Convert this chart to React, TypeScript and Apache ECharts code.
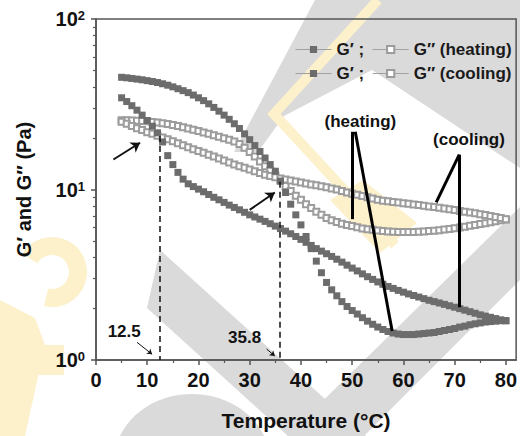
import React, { useEffect, useRef } from "react";
import * as echarts from "echarts";

// ---------- data ----------
const temperature = [
  5, 6, 7, 8, 9, 10, 11, 12, 13, 14,
  15, 16, 17, 18, 19, 20, 21, 22, 23, 24,
  25, 26, 27, 28, 29, 30, 31, 32, 33, 34,
  35, 36, 37, 38, 39, 40, 41, 42, 43, 44,
  45, 46, 47, 48, 49, 50, 51, 52, 53, 54,
  55, 56, 57, 58, 59, 60, 61, 62, 63, 64,
  65, 66, 67, 68, 69, 70, 71, 72, 73, 74,
  75, 76, 77, 78, 79, 80,
];

const gPrimeHeating = [
  45.5, 45.2, 44.8, 44.4, 44.0, 43.5, 43.0, 42.4, 41.7, 40.9,
  40.0, 39.0, 38.0, 37.0, 35.8, 34.5, 33.2, 31.8, 30.3, 28.8,
  27.3, 25.8, 24.3, 22.8, 21.2, 19.6, 18.1, 16.7, 15.3, 14.0,
  12.8, 11.2, 9.6, 8.2, 7.1, 6.2, 5.3, 4.5, 3.8, 3.25,
  2.85, 2.58, 2.38, 2.2, 2.06, 1.95, 1.86, 1.77, 1.69, 1.62,
  1.56, 1.51, 1.47, 1.44, 1.42, 1.41, 1.41, 1.41, 1.42, 1.43,
  1.44, 1.45, 1.47, 1.49, 1.51, 1.53, 1.56, 1.58, 1.61, 1.63,
  1.65, 1.67, 1.68, 1.69, 1.7, 1.7,
];

const gDoublePrimeHeating = [
  25.5, 25.5, 25.4, 25.3, 25.2, 25.1, 24.9, 24.7, 24.5, 24.2,
  23.9, 23.6, 23.2, 22.8, 22.4, 22.0, 21.6, 21.2, 20.8, 20.4,
  20.0, 19.6, 19.1, 18.5, 17.6, 16.6, 15.6, 14.6, 13.7, 12.9,
  12.1, 11.3, 10.5, 9.8, 9.2, 8.7, 8.2, 7.8, 7.4, 7.1,
  6.8, 6.6, 6.45, 6.3, 6.2, 6.1, 6.0, 5.9, 5.85, 5.8,
  5.75, 5.7, 5.68, 5.66, 5.64, 5.63, 5.63, 5.64, 5.65, 5.67,
  5.7, 5.73, 5.77, 5.82, 5.87, 5.93, 5.99, 6.05, 6.12, 6.19,
  6.27, 6.35, 6.43, 6.52, 6.6, 6.68,
];

const gPrimeCooling = [
  34.5, 32.8, 31.0, 29.2, 27.3, 25.4, 23.5, 21.5, 19.0, 15.8,
  14.0, 12.6, 11.5, 10.8, 10.4, 10.05, 9.7, 9.35, 9.0, 8.7,
  8.4, 8.1, 7.85, 7.6, 7.35, 7.1, 6.9, 6.7, 6.5, 6.3,
  6.1, 5.9, 5.7, 5.5, 5.3, 5.1, 4.9, 4.7, 4.5, 4.35,
  4.2, 4.05, 3.9, 3.75, 3.6, 3.46, 3.33, 3.2, 3.08, 2.97,
  2.87, 2.78, 2.7, 2.63, 2.56, 2.5, 2.44, 2.39, 2.34, 2.29,
  2.24, 2.2, 2.16, 2.12, 2.08, 2.04, 2.0, 1.96, 1.92, 1.88,
  1.84, 1.81, 1.78, 1.75, 1.72, 1.7,
];

const gDoublePrimeCooling = [
  25.0, 24.3, 23.6, 22.9, 22.3, 21.7, 21.2, 20.7, 20.2, 19.7,
  19.2, 18.7, 18.2, 17.7, 17.2, 16.8, 16.4, 16.0, 15.6, 15.2,
  14.8, 14.4, 14.0, 13.7, 13.4, 13.1, 12.8, 12.5, 12.2, 12.0,
  11.8, 11.6, 11.45, 11.3, 11.15, 11.0, 10.85, 10.7, 10.6, 10.45,
  10.3, 10.15, 10.0, 9.8, 9.6, 9.45, 9.3, 9.15, 9.0, 8.85,
  8.7, 8.6, 8.52, 8.45, 8.38, 8.31, 8.24, 8.17, 8.1, 8.03,
  7.96, 7.89, 7.81, 7.73, 7.65, 7.57, 7.49, 7.41, 7.33, 7.25,
  7.17, 7.08, 6.99, 6.9, 6.8, 6.7,
];

const xMajorTicks = [0, 10, 20, 30, 40, 50, 60, 70, 80];
const xMinorTicks = [5, 15, 25, 35, 45, 55, 65, 75];
const yMajorTicks = [1, 10, 100];
const yMinorTicks = [2, 3, 4, 5, 6, 7, 8, 9, 20, 30, 40, 50, 60, 70, 80, 90];

// crossover temperatures (°C) and modulus there (Pa)
const crossoverTemps = [12.5, 35.8];
const crossoverModuli = [20.6, 11.1];
const crossoverLabels = ["12.5", "35.8"];

// ---------- styling ----------
const FONT = '"Liberation Sans", Arial, Helvetica, sans-serif';
const AXIS = "#555555";
const INK = "#111111";
const FILLED = "#6c6c6c";
const OPEN = "#9c9c9c";
const WM_GREY = "#dadada";
const WM_YELLOW = "#fdf1cc";

const pairs = (ys: number[]) => temperature.map((t, i) => [t, ys[i]]);

const nameMap: Record<string, string> = {
  "G′ heating": "G′ ;",
  "G″ heating": "G″ (heating)",
  "G′ cooling": "G′ ;",
  "G″ cooling": "G″ (cooling)",
};

const filledSeries = (name: string, ys: number[]) => ({
  name,
  type: "line",
  data: pairs(ys),
  symbol: "rect",
  symbolSize: 7,
  itemStyle: { color: FILLED },
  lineStyle: { color: "#9a9a9a", width: 1, opacity: 0 },
  emphasis: { disabled: true },
  z: 4,
});

const openSeries = (name: string, ys: number[]) => ({
  name,
  type: "line",
  data: pairs(ys),
  symbol: "emptyRect",
  symbolSize: 6,
  itemStyle: { color: OPEN, borderWidth: 1 },
  lineStyle: { color: "#9a9a9a", width: 1, opacity: 0 },
  emphasis: { disabled: true },
  z: 3,
});

const seg = (a: number[], b: number[], style: any, endSymbol = "none", size = 8) => [
  { coord: a, symbol: "none", lineStyle: style },
  { coord: b, symbol: endSymbol, symbolSize: size },
];

const pointer = { color: "#000", width: 3, type: "solid" };
const arrowStyle = { color: "#111", width: 2, type: "solid" };
const thinArrow = { color: "#111", width: 1, type: "solid" };
const dashed = { color: INK, width: 1.5, type: [6, 4] };

export default function App() {
  const ref = useRef<HTMLDivElement>(null);

  useEffect(() => {
    const chart = echarts.init(ref.current!, null, { renderer: "svg" });

    const legendBase = {
      left: 290,
      itemWidth: 36,
      itemHeight: 9,
      itemGap: 8,
      textStyle: { fontSize: 17, fontWeight: "bold", color: "#1a1a1a", fontFamily: FONT },
      lineStyle: { color: "#a0a0a0", width: 1, opacity: 1 },
      formatter: (n: string) => nameMap[n] || n,
      selectedMode: false,
    };

    const option: any = {
      animation: false,
      backgroundColor: "#ffffff",
      textStyle: { fontFamily: FONT },
      grid: {
        left: 96,
        top: 19,
        right: 3,
        bottom: 75,
        show: true,
        borderColor: AXIS,
        borderWidth: 1.5,
        backgroundColor: "transparent",
      },
      legend: [
        { ...legendBase, top: 36, data: ["G′ heating", "G″ heating"] },
        { ...legendBase, top: 60, data: ["G′ cooling", "G″ cooling"] },
      ],
      xAxis: [
        {
          type: "value",
          min: 0,
          max: 82,
          interval: 10,
          axisLine: { show: true, lineStyle: { color: AXIS, width: 1.5 } },
          axisTick: { show: true, customValues: xMajorTicks, length: 5, lineStyle: { color: AXIS, width: 1.5 } },
          axisLabel: {
            customValues: xMajorTicks,
            fontSize: 20,
            fontWeight: "bold",
            color: INK,
            margin: 10,
            fontFamily: FONT,
          },
          splitLine: { show: false },
          name: "Temperature (°C)",
          nameLocation: "middle",
          nameGap: 50,
          nameTextStyle: { fontSize: 21, fontWeight: "bold", color: INK, fontFamily: FONT },
        },
        {
          type: "value",
          min: 0,
          max: 82,
          position: "bottom",
          axisLine: { show: false },
          axisTick: { show: true, customValues: xMinorTicks, length: 3, lineStyle: { color: AXIS, width: 1.2 } },
          axisLabel: { show: false },
          splitLine: { show: false },
        },
      ],
      yAxis: [
        {
          type: "log",
          logBase: 10,
          min: 1,
          max: 100,
          axisLine: { show: true, lineStyle: { color: AXIS, width: 1.5 } },
          axisTick: { show: true, customValues: yMajorTicks, length: 5, lineStyle: { color: AXIS, width: 1.5 } },
          axisLabel: {
            customValues: yMajorTicks,
            margin: 11,
            formatter: (v: number) => `{b|10}{s|${Math.round(Math.log10(v))}}`,
            rich: {
              b: { fontSize: 20, fontWeight: "bold", color: INK, fontFamily: FONT },
              s: { fontSize: 13, fontWeight: "bold", color: INK, fontFamily: FONT, verticalAlign: "top" },
            },
          },
          splitLine: { show: false },
          minorTick: { show: false },
          name: "G′ and G″ (Pa)",
          nameLocation: "middle",
          nameGap: 62,
          nameTextStyle: { fontSize: 20, fontWeight: "bold", color: INK, fontFamily: FONT },
        },
        {
          type: "log",
          logBase: 10,
          min: 1,
          max: 100,
          position: "left",
          axisLine: { show: false },
          axisTick: { show: true, customValues: yMinorTicks, length: 3, lineStyle: { color: AXIS, width: 1.2 } },
          axisLabel: { show: false },
          splitLine: { show: false },
        },
      ],
      series: [
        openSeries("G″ heating", gDoublePrimeHeating),
        openSeries("G″ cooling", gDoublePrimeCooling),
        filledSeries("G′ cooling", gPrimeCooling),
        {
          ...filledSeries("G′ heating", gPrimeHeating),
          markLine: {
            silent: true,
            animation: false,
            symbol: ["none", "none"],
            label: { show: false },
            emphasis: { disabled: true },
            data: [
              seg([crossoverTemps[0], crossoverModuli[0]], [crossoverTemps[0], 1], dashed),
              seg([crossoverTemps[1], crossoverModuli[1]], [crossoverTemps[1], 1], dashed),
              seg([50.1, 21.8], [50.1, 6.7], pointer),
              seg([50.6, 21.8], [57.8, 1.48], pointer),
              seg([70.9, 16.0], [66.4, 8.4], pointer),
              seg([70.9, 16.0], [70.9, 2.04], pointer),
              seg([3.4, 15.0], [8.6, 18.8], arrowStyle, "arrow", 9),
              seg([30.0, 7.6], [34.9, 9.6], arrowStyle, "arrow", 9),
              seg([8.0, 1.27], [10.95, 1.08], thinArrow, "arrow", 5),
              seg([33.3, 1.16], [34.9, 1.055], thinArrow, "arrow", 5),
            ],
          },
        },
      ],
    };

    chart.setOption(option);

    const px = (t: number, v: number) => chart.convertToPixel({ seriesIndex: 3 }, [t, v]) as number[];
    const label = (text: string, p: number[], size: number) => ({
      type: "text",
      x: p[0],
      y: p[1],
      z: 10,
      silent: true,
      style: {
        text,
        fontSize: size,
        fontWeight: "bold",
        fontFamily: FONT,
        fill: INK,
        align: "center",
        verticalAlign: "middle",
      },
    });

    const wm = (el: any) => ({ ...el, z: -10, silent: true });

    chart.setOption({
      graphic: [
        // faint watermark shapes behind the plot
        wm({ type: "polygon", shape: { points: [[315, 0], [520, 0], [520, 168], [372, 70], [284, 116], [258, 152], [234, 152]] }, style: { fill: WM_GREY } }),
        wm({ type: "polygon", shape: { points: [[160, 250], [147, 308], [288, 436], [366, 436]] }, style: { fill: WM_GREY } }),
        wm({ type: "polygon", shape: { points: [[287, 436], [364, 436], [520, 280], [520, 207]] }, style: { fill: WM_GREY } }),
        wm({ type: "ellipse", shape: { cx: 192, cy: 462, rx: 78, ry: 68 }, style: { fill: WM_GREY } }),
        wm({ type: "polyline", shape: { points: [[378, 0], [274, 114], [395, 245]] }, style: { stroke: WM_YELLOW, lineWidth: 10, fill: null } }),
        wm({ type: "polygon", shape: { points: [[330, 200], [363, 180], [417, 223], [380, 253]] }, style: { fill: WM_YELLOW } }),
        wm({ type: "arc", shape: { cx: 52, cy: 272, r: 26, startAngle: -2.6, endAngle: 1.8 }, style: { stroke: WM_YELLOW, lineWidth: 18, fill: null } }),
        wm({ type: "polygon", shape: { points: [[0, 300], [35, 318], [45, 345], [25, 436], [0, 436]] }, style: { fill: WM_YELLOW } }),
        wm({ type: "rect", shape: { x: 37, y: 345, width: 27, height: 30 }, style: { fill: WM_YELLOW } }),
        // annotations
        label("(heating)", px(51.6, 25.0), 17),
        label("(cooling)", px(72.8, 19.6), 17),
        label(crossoverLabels[0], px(5.5, 1.46), 17),
        label(crossoverLabels[1], px(29.0, 1.36), 17),
      ],
    });

    return () => chart.dispose();
  }, []);

  return (
    <div
      ref={ref}
      style={{ position: "fixed", left: 0, top: 0, width: 520, height: 436, background: "#fff" }}
    />
  );
}
